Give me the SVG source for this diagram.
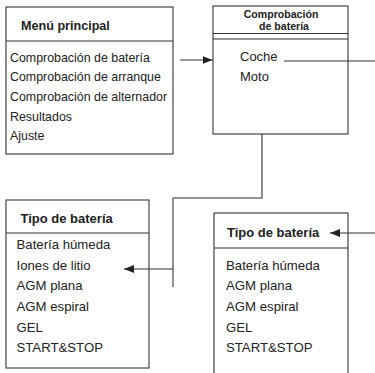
<svg xmlns="http://www.w3.org/2000/svg" width="375" height="373" viewBox="0 0 375 373">
<defs>
<marker id="ah" viewBox="0 0 10 8" refX="10" refY="4" markerWidth="10" markerHeight="8" markerUnits="userSpaceOnUse" orient="auto">
<path d="M0,0 L10,4 L0,8 Z" fill="#222"/>
</marker>
<style>
.box{fill:#fff;stroke:#333;stroke-width:1.1}
.ln{fill:none;stroke:#333;stroke-width:1.1}
.t{font-family:"Liberation Sans",Arial,sans-serif;fill:#222}
.h{font-weight:bold}
</style>
</defs>
<rect width="375" height="373" fill="#fff"/>
<g id="menu-principal">
<rect class="box" x="6" y="7" width="167" height="147"/>
<line class="ln" x1="6" y1="41" x2="173" y2="41"/>
<text class="t h" x="21" y="29.5" font-size="12.6">Menú principal</text>
<g class="t" font-size="12.4">
<text x="10" y="61.5">Comprobación de batería</text>
<text x="10" y="81">Comprobación de arranque</text>
<text x="10" y="101">Comprobación de alternador</text>
<text x="10" y="120.5">Resultados</text>
<text x="10" y="140">Ajuste</text>
</g>
</g>
<g id="comprobacion-bateria">
<rect class="box" x="213" y="6" width="135" height="128"/>
<line class="ln" x1="213" y1="33.5" x2="348" y2="33.5"/>
<line class="ln" x1="213" y1="39" x2="348" y2="39"/>
<text class="t h" x="281" y="17.5" font-size="10.6" text-anchor="middle">Comprobación</text>
<text class="t h" x="284" y="30" font-size="10.6" text-anchor="middle">de batería</text>
<text class="t" x="240" y="61" font-size="13">Coche</text>
<text class="t" x="240" y="81" font-size="13">Moto</text>
</g>
<g id="tipo-bateria-1">
<rect class="box" x="6" y="200" width="143" height="168"/>
<line class="ln" x1="6" y1="233" x2="149" y2="233"/>
<text class="t h" x="20.5" y="223" font-size="13">Tipo de batería</text>
<g class="t" font-size="13.2">
<text x="16.5" y="249">Batería húmeda</text>
<text x="16.5" y="269.5">Iones de litio</text>
<text x="16.5" y="290">AGM plana</text>
<text x="16.5" y="311">AGM espiral</text>
<text x="16.5" y="331.5">GEL</text>
<text x="16.5" y="352">START&amp;STOP</text>
</g>
</g>
<g id="tipo-bateria-2">
<rect class="box" x="214" y="213" width="134" height="170"/>
<line class="ln" x1="214" y1="248" x2="348" y2="248"/>
<text class="t h" x="227" y="237" font-size="13">Tipo de batería</text>
<g class="t" font-size="13.2">
<text x="226" y="269.5">Batería húmeda</text>
<text x="226" y="290">AGM plana</text>
<text x="226" y="311">AGM espiral</text>
<text x="226" y="331.5">GEL</text>
<text x="226" y="352">START&amp;STOP</text>
</g>
</g>
<g id="connectors">
<line class="ln" x1="180" y1="60" x2="212.5" y2="60" marker-end="url(#ah)"/>
<line class="ln" x1="284" y1="61" x2="376" y2="61"/>
<polyline class="ln" points="262,134 262,198 173,198 173,287"/>
<line class="ln" x1="173" y1="269" x2="124" y2="269" marker-end="url(#ah)"/>
<line class="ln" x1="376" y1="233" x2="330" y2="233" marker-end="url(#ah)"/>
</g>
</svg>
